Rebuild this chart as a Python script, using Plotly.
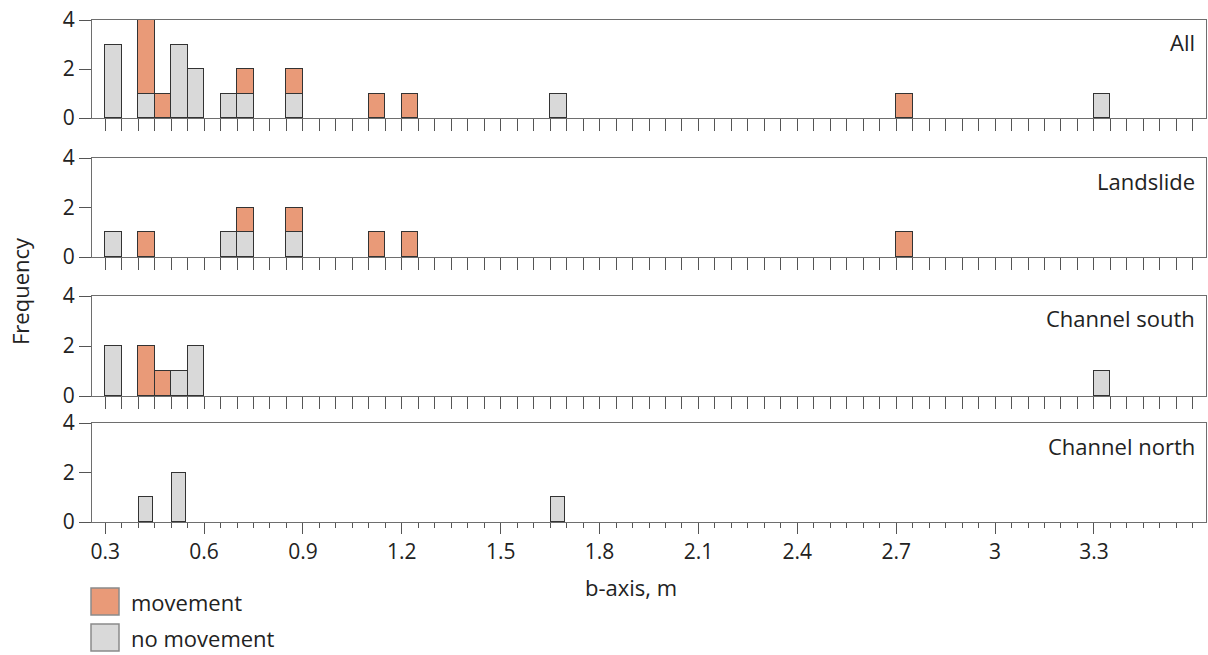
import plotly.graph_objects as go

# ---- data (bin left edges in m, bin width 0.05 m) ----
panel_names = ["All", "Landslide", "Channel south", "Channel north"]

all_nomove_x = [0.30, 0.40, 0.50, 0.55, 0.65, 0.70, 0.85, 1.65, 3.30]
all_nomove_y = [3, 1, 3, 2, 1, 1, 1, 1, 1]
all_move_x = [0.40, 0.45, 0.70, 0.85, 1.10, 1.20, 2.70]
all_move_y = [3, 1, 1, 1, 1, 1, 1]

land_nomove_x = [0.30, 0.65, 0.70, 0.85]
land_nomove_y = [1, 1, 1, 1]
land_move_x = [0.40, 0.70, 0.85, 1.10, 1.20, 2.70]
land_move_y = [1, 1, 1, 1, 1, 1]

south_nomove_x = [0.30, 0.50, 0.55, 3.30]
south_nomove_y = [2, 1, 2, 1]
south_move_x = [0.40, 0.45]
south_move_y = [2, 1]

north_nomove_x = [0.40, 0.50, 1.65]
north_nomove_y = [1, 2, 1]
north_move_x = []
north_move_y = []

x_tick_labels = ["0.3", "0.6", "0.9", "1.2", "1.5", "1.8", "2.1", "2.4", "2.7", "3", "3.3"]
x_tick_vals = [0.3, 0.6, 0.9, 1.2, 1.5, 1.8, 2.1, 2.4, 2.7, 3.0, 3.3]

# ---- style ----
W, H = 1208, 655
FONT = "Open Sans"
MOVE_C = "#E99A78"
NOMOVE_C = "#D9D9D9"
EDGE_C = "#333333"
AXIS_C = "#6e6e6e"
TXT_C = "#222222"

# panel pixel extents (top, bottom)
panel_px = [(20, 118), (158, 257), (296, 396), (423, 522)]
x_left_px, x_right_px = 92, 1206

def py(p):
    return 1 - p / H

series = [
    (all_nomove_x, all_nomove_y, all_move_x, all_move_y),
    (land_nomove_x, land_nomove_y, land_move_x, land_move_y),
    (south_nomove_x, south_nomove_y, south_move_x, south_move_y),
    (north_nomove_x, north_nomove_y, north_move_x, north_move_y),
]

fig = go.Figure()
for i, (nx, ny, mx, my) in enumerate(series):
    ax = "" if i == 0 else str(i + 1)
    narrow = (i == 3)
    width = 0.042 if narrow else 0.05
    offset = 0.004 if narrow else 0.0
    fig.add_trace(go.Bar(
        x=nx, y=ny, width=width, offset=offset,
        marker=dict(color=NOMOVE_C, line=dict(color=EDGE_C, width=1)),
        xaxis="x" + ax, yaxis="y" + ax, showlegend=False, name="no movement"))
    if mx:
        fig.add_trace(go.Bar(
            x=mx, y=my, width=width, offset=offset,
            marker=dict(color=MOVE_C, line=dict(color=EDGE_C, width=1)),
            xaxis="x" + ax, yaxis="y" + ax, showlegend=False, name="movement"))

layout = dict(
    width=W, height=H,
    margin=dict(l=0, r=0, t=0, b=0, autoexpand=False),
    paper_bgcolor="white", plot_bgcolor="white",
    barmode="stack", bargap=0,
    font=dict(family=FONT, color=TXT_C, size=20),
    showlegend=False,
)

x0, x1 = x_left_px / W, x_right_px / W
for i, (top, bot) in enumerate(panel_px):
    ax = "" if i == 0 else str(i + 1)
    last = (i == 3)
    xa = dict(
        domain=[x0, x1], range=[0.26, 3.64], anchor="y" + ax, automargin=False,
        showline=True, linecolor=AXIS_C, linewidth=1.3, mirror=True,
        showgrid=False, zeroline=False,
        ticks="outside", tickcolor="#555555", tickwidth=1.3,
    )
    if last:
        xa.update(tickvals=x_tick_vals, ticktext=x_tick_labels, ticklen=11,
                  tickfont=dict(size=21, family=FONT, color=TXT_C),
                  minor=dict(dtick=0.05, tick0=0.3, ticklen=5, ticks="outside",
                             tickcolor="#555555", tickwidth=1.3, showgrid=False))
    else:
        xa.update(tick0=0.3, dtick=0.05, ticklen=12, showticklabels=False)
    ya = dict(
        domain=[py(bot), py(top)], range=[0, 4], anchor="x" + ax, automargin=False,
        showline=True, linecolor=AXIS_C, linewidth=1.3, mirror=True,
        showgrid=False, zeroline=False,
        tickvals=[0, 2, 4], ticks="outside", ticklen=12, tickcolor="#555555",
        tickwidth=1.3, tickfont=dict(size=21, family=FONT, color=TXT_C),
    )
    layout["xaxis" + ax] = xa
    layout["yaxis" + ax] = ya

fig.update_layout(**layout)

# panel labels
label_y_px = [42, 181, 318, 446]
for name, yp in zip(panel_names, label_y_px):
    fig.add_annotation(x=1197 / W, y=py(yp), xref="paper", yref="paper",
                       text=name, showarrow=False, xanchor="right", yanchor="middle",
                       font=dict(size=22, family=FONT, color=TXT_C))

# axis titles
fig.add_annotation(x=20 / W, y=py(291), xref="paper", yref="paper", text="Frequency",
                   textangle=-90, showarrow=False, xanchor="center", yanchor="middle",
                   font=dict(size=22, family=FONT, color=TXT_C))
fig.add_annotation(x=631 / W, y=py(587), xref="paper", yref="paper", text="b-axis, m",
                   showarrow=False, xanchor="center", yanchor="middle",
                   font=dict(size=22, family=FONT, color=TXT_C))

# legend (drawn manually to match large swatches)
legend_items = [("movement", MOVE_C, 588, 615), ("no movement", NOMOVE_C, 624, 651)]
for text, col, t, b in legend_items:
    fig.add_shape(type="rect", xref="paper", yref="paper",
                  x0=91 / W, x1=119 / W, y0=py(b), y1=py(t),
                  fillcolor=col, line=dict(color="#8a8a8a", width=1.5))
    fig.add_annotation(x=129 / W, y=py((t + b) / 2), xref="paper", yref="paper",
                       text=text, showarrow=False, xanchor="left", yanchor="middle",
                       font=dict(size=22, family=FONT, color=TXT_C))

fig.write_html("out.html")
